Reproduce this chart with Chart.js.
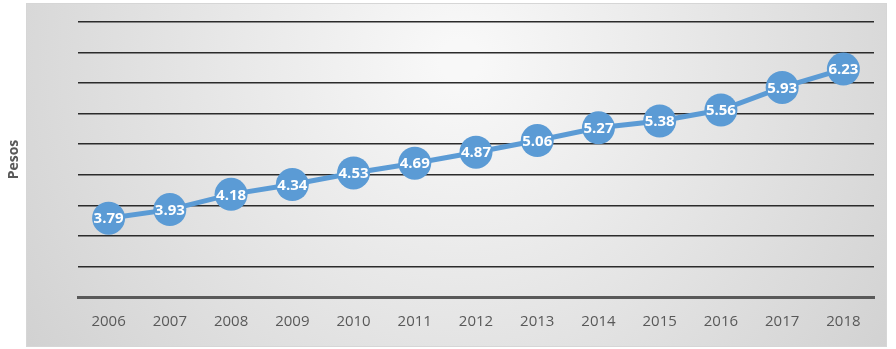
<!DOCTYPE html>
<html>
<head>
<meta charset="utf-8">
<script src="https://cdn.jsdelivr.net/npm/chart.js@4"></script>
<style>
  html, body { margin: 0; padding: 0; background: #ffffff; }
  #wrap { width: 896px; height: 349px; position: relative; }
</style>
</head>
<body>
<div id="wrap"><canvas id="chart"></canvas></div>
<script>
const years = ["2006", "2007", "2008", "2009", "2010", "2011", "2012", "2013", "2014", "2015", "2016", "2017", "2018"];
const pesos = [3.79, 3.93, 4.18, 4.34, 4.53, 4.69, 4.87, 5.06, 5.27, 5.38, 5.56, 5.93, 6.23];
const yTitle = "Pesos";

// grey box behind the plot
const fondo = {
  id: "fondo",
  beforeDraw(chart) {
    const ctx = chart.ctx;
    ctx.save();
    const g = ctx.createRadialGradient(460, 60, 20, 460, 60, 580);
    g.addColorStop(0, "#f8f8f8");
    g.addColorStop(1, "#cdcdcd");
    ctx.fillStyle = g;
    ctx.fillRect(26, 3, 861, 344);
    ctx.strokeStyle = "#d6d6d6";
    ctx.lineWidth = 1;
    ctx.strokeRect(26.5, 3.5, 860, 343);
    ctx.restore();
  }
};

// value labels inside the points
const etiquetas = {
  id: "etiquetas",
  afterDatasetsDraw(chart) {
    const ctx = chart.ctx;
    const meta = chart.getDatasetMeta(0);
    ctx.save();
    ctx.font = "bold 15px 'Open Sans'";
    ctx.fillStyle = "#ffffff";
    ctx.textAlign = "center";
    ctx.textBaseline = "middle";
    meta.data.forEach((p, i) => {
      ctx.fillText(pesos[i].toFixed(2), p.x, p.y + 1);
    });
    ctx.restore();
  }
};

new Chart(document.getElementById("chart"), {
  type: "line",
  data: {
    labels: years,
    datasets: [{
      data: pesos,
      borderColor: "#5b9bd5",
      backgroundColor: "#5b9bd5",
      borderWidth: 5,
      pointRadius: 16.5,
      pointHoverRadius: 16.5,
      pointBorderWidth: 0,
      tension: 0,
      clip: false
    }]
  },
  options: {
    responsive: true,
    maintainAspectRatio: false,
    animation: false,
    layout: { padding: { left: 6, right: 22, top: 22, bottom: 2 } },
    plugins: {
      legend: { display: false },
      tooltip: { enabled: false }
    },
    scales: {
      x: {
        offset: true,
        grid: { display: false, drawTicks: false },
        border: { display: true, color: "#595959", width: 3 },
        ticks: {
          padding: 16,
          color: "#595959",
          font: { family: "'Open Sans'", size: 15 }
        }
      },
      y: {
        min: 2.5,
        max: 7,
        afterFit: (axis) => { axis.width = 72; },
        ticks: { display: false, stepSize: 0.5 },
        grid: { color: "#2b2b2b", lineWidth: 1.5, drawTicks: false },
        border: { display: false },
        title: {
          display: true,
          text: yTitle,
          color: "#595959",
          padding: 0,
          font: { family: "'Open Sans'", size: 14, weight: "bold" }
        }
      }
    }
  },
  plugins: [fondo, etiquetas]
});
</script>
</body>
</html>
